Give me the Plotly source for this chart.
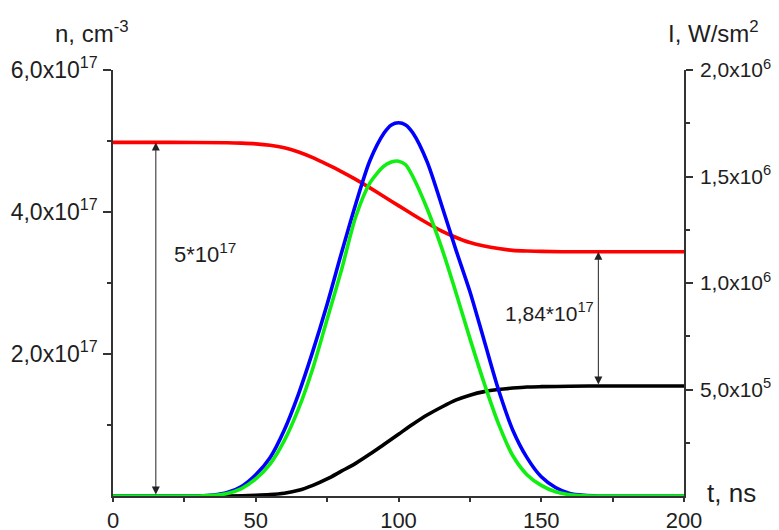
import plotly.graph_objects as go

# ---- data ----
# electron density n (cm^-3), left axis
t_red = [0, 20, 40, 45, 50, 55, 60, 65, 70, 75, 80, 85, 90, 95, 100, 105, 110, 115, 120, 125, 130, 135, 140, 145, 150, 160, 200]
n_red = [4.98e17, 4.98e17, 4.975e17, 4.97e17, 4.96e17, 4.94e17, 4.905e17, 4.845e17, 4.765e17, 4.67e17, 4.57e17, 4.46e17,
         4.34e17, 4.215e17, 4.09e17, 3.965e17, 3.845e17, 3.735e17, 3.645e17, 3.57e17, 3.52e17, 3.485e17, 3.46e17,
         3.45e17, 3.445e17, 3.44e17, 3.44e17]

t_black = [0, 40, 50, 55, 60, 65, 70, 75, 80, 85, 90, 95, 100, 105, 110, 115, 120, 125, 130, 135, 140, 145, 150, 160, 170, 200]
n_black = [0, 0, 0.01e17, 0.02e17, 0.04e17, 0.08e17, 0.15e17, 0.24e17, 0.35e17, 0.46e17, 0.59e17, 0.73e17,
           0.87e17, 1.01e17, 1.14e17, 1.25e17, 1.35e17, 1.42e17, 1.47e17, 1.50e17, 1.52e17, 1.535e17, 1.54e17,
           1.545e17, 1.55e17, 1.55e17]

# intensity I (W/sm^2), right axis
t_pulse = [0, 25, 30, 35, 40, 45, 50, 55, 60, 65, 70, 75, 80, 85, 90, 95, 97.5, 100, 102.5,
           105, 110, 115, 120, 125, 130, 135, 140, 145, 150, 155, 160, 165, 170, 175, 200]
I_blue = [0, 0, 0, 0.004e6, 0.016e6, 0.045e6, 0.10e6, 0.18e6, 0.31e6, 0.48e6, 0.68e6, 0.90e6, 1.14e6, 1.37e6, 1.575e6,
          1.705e6, 1.742e6, 1.752e6, 1.742e6,
          1.705e6, 1.57e6, 1.37e6, 1.16e6, 0.96e6, 0.73e6, 0.50e6, 0.31e6, 0.18e6, 0.09e6, 0.04e6, 0.012e6, 0.003e6, 0, 0, 0]
I_green = [0, 0, 0, 0.003e6, 0.012e6, 0.035e6, 0.08e6, 0.15e6, 0.26e6, 0.41e6, 0.60e6, 0.83e6, 1.06e6, 1.31e6, 1.47e6,
           1.55e6, 1.568e6, 1.572e6, 1.555e6,
           1.50e6, 1.35e6, 1.17e6, 0.96e6, 0.74e6, 0.53e6, 0.34e6, 0.19e6, 0.10e6, 0.05e6, 0.02e6, 0.006e6, 0.001e6, 0, 0, 0]

# ticks
x_ticks = [0, 50, 100, 150, 200]
x_minor = [25, 75, 125, 175]
n_ticks = [2e17, 4e17, 6e17]
n_ticktext = ["2,0x10<sup>17</sup>", "4,0x10<sup>17</sup>", "6,0x10<sup>17</sup>"]
n_minor = [1e17, 3e17, 5e17]
I_ticks = [0.5e6, 1.0e6, 1.5e6, 2.0e6]
I_ticktext = ["5,0x10<sup>5</sup>", "1,0x10<sup>6</sup>", "1,5x10<sup>6</sup>", "2,0x10<sup>6</sup>"]
I_minor = [0.25e6, 0.75e6, 1.25e6, 1.75e6]

# annotation arrows (times)
arrow1_t = 15
arrow2_t = 170
label1 = "5*10<sup>17</sup>"
label2 = "1,84*10<sup>17</sup>"

FONT = "Liberation Sans, Arial, sans-serif"
TXT = "#1e1e1e"
AX = "#333333"
LW = 3.6
SM = 0.8

fig = go.Figure()
fig.add_trace(go.Scatter(x=t_red, y=n_red, mode="lines", line=dict(color="#ff0000", width=LW, shape="spline", smoothing=SM),
                         yaxis="y", showlegend=False))
fig.add_trace(go.Scatter(x=t_black, y=n_black, mode="lines", line=dict(color="#000000", width=LW, shape="spline", smoothing=SM),
                         yaxis="y", showlegend=False))
fig.add_trace(go.Scatter(x=t_pulse, y=I_blue, mode="lines", line=dict(color="#0000ff", width=LW, shape="spline", smoothing=SM),
                         yaxis="y2", showlegend=False))
fig.add_trace(go.Scatter(x=t_pulse, y=I_green, mode="lines", line=dict(color="#11ee11", width=LW, shape="spline", smoothing=SM),
                         yaxis="y2", showlegend=False))

axis_common = dict(showline=True, linecolor=AX, linewidth=1.5, ticks="outside", tickwidth=1.5,
                   tickcolor=AX, showgrid=False, zeroline=False, automargin=False)

# page body has an 8px margin: the figure is sized / placed so the plot area lands at
# page pixels x 113..684, y 70..496
PAGE_OFF = 8
W, H = 771, 522
l, r, t, b = 105, 95, 62, 34

fig.update_layout(
    width=W, height=H,
    margin=dict(l=l, r=r, t=t, b=b, autoexpand=False),
    paper_bgcolor="white", plot_bgcolor="white",
    font=dict(family=FONT, color=TXT),
    xaxis=dict(range=[0, 200], tickvals=x_ticks, ticktext=[str(v) for v in x_ticks], ticklen=4,
               tickfont=dict(family=FONT, size=22, color=TXT),
               minor=dict(tickvals=x_minor, ticks="outside", ticklen=4, tickwidth=1.5, tickcolor=AX),
               **axis_common),
    yaxis=dict(range=[0, 6e17], tickvals=n_ticks, ticktext=n_ticktext, ticklen=8, ticklabelstandoff=1,
               tickfont=dict(family=FONT, size=23, color=TXT),
               minor=dict(tickvals=n_minor, ticks="outside", ticklen=4, tickwidth=1.5, tickcolor=AX),
               **axis_common),
    yaxis2=dict(range=[0, 2e6], tickvals=I_ticks, ticktext=I_ticktext, overlaying="y", side="right",
                ticklen=7, ticklabelstandoff=3, tickfont=dict(family=FONT, size=21, color=TXT),
                minor=dict(tickvals=I_minor, ticks="outside", ticklen=4, tickwidth=1.5, tickcolor=AX),
                **axis_common),
)


def px_to_paper(xp, yp):
    xf, yf = xp - PAGE_OFF, yp - PAGE_OFF
    return (xf - l) / (W - l - r), ((H - yf) - b) / (H - t - b)


annotations = [
    # double arrows
    dict(x=arrow1_t, y=n_red[0], ax=arrow1_t, ay=0, xref="x", yref="y", axref="x", ayref="y", text="",
         showarrow=True, arrowside="end+start", arrowhead=2, startarrowhead=2, arrowsize=1.6, startarrowsize=1.6,
         arrowwidth=1, arrowcolor="#222222"),
    dict(x=arrow2_t, y=n_red[-1], ax=arrow2_t, ay=n_black[-1], xref="x", yref="y", axref="x", ayref="y", text="",
         showarrow=True, arrowside="end+start", arrowhead=2, startarrowhead=2, arrowsize=1.6, startarrowsize=1.6,
         arrowwidth=1, arrowcolor="#222222"),
    # value labels
    dict(x=20.5, y=3.42e17, xref="x", yref="y", text=label1, showarrow=False, xanchor="left", yanchor="middle",
         font=dict(family=FONT, size=22, color=TXT)),
    dict(x=136.5, y=2.59e17, xref="x", yref="y", text=label2, showarrow=False, xanchor="left", yanchor="middle",
         font=dict(family=FONT, size=21, color=TXT)),
]
for txt, xp, yp, sz in [("n, cm<sup>-3</sup>", 92, 32, 24), ("I, W/sm<sup>2</sup>", 713, 32, 24), ("t, ns", 731, 493, 26)]:
    xx, yy = px_to_paper(xp, yp)
    annotations.append(dict(x=xx, y=yy, xref="paper", yref="paper", text=txt, showarrow=False,
                            xanchor="center", yanchor="middle", font=dict(family=FONT, size=sz, color=TXT)))
fig.update_layout(annotations=annotations)

fig.write_html("out.html")
